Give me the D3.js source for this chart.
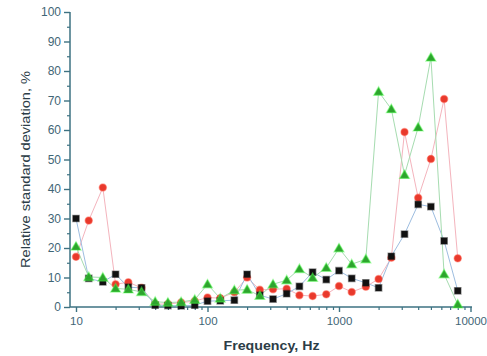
<!DOCTYPE html>
<html>
<head>
<meta charset="utf-8">
<script src="https://cdn.jsdelivr.net/npm/d3@7"></script>
<style>
  html, body { margin: 0; padding: 0; background: #fff; }
  svg { display: block; }
  text { font-family: "Liberation Sans", Arial, Helvetica, sans-serif; }
</style>
</head>
<body>
<svg id="chart" width="487" height="356"></svg>
<script>
// One-third-octave band centre frequencies, Hz
const frequencies = [10, 12.5, 16, 20, 25, 31.5, 40, 50, 63, 80, 100, 125, 160, 200, 250,
  315, 400, 500, 630, 800, 1000, 1250, 1600, 2000, 2500, 3150, 4000, 5000, 6300, 8000];

// Relative standard deviation (%) per band, three measurement series
const seriesSquares = [30, 9.7, 8.5, 11.1, 6.7, 6.5, 0.6, 0.5, 0.4, 0.6, 2, 2.1, 2.3, 11.1, 4,
  2.7, 4.5, 7, 11.8, 9.3, 12.3, 9.7, 8.2, 6.5, 17.2, 24.7, 34.8, 34, 22.4, 5.5];
const seriesCircles = [17, 29.3, 40.5, 7.7, 8.4, 6.5, 1, 1, 1.5, 2, 3.2, 3, 5, 10, 5.8,
  6, 6.2, 4, 3.7, 4.3, 7.1, 5.1, 6.9, 9.5, 16.7, 59.3, 37, 50.2, 70.5, 16.5];
const seriesTriangles = [20.5, 10.2, 10, 6.3, 6, 5.1, 1.8, 1.5, 1.7, 2.5, 7.7, 2.9, 5.7, 5.9, 3.8,
  7.7, 9.1, 12.9, 9.9, 13.3, 19.9, 14.5, 16.2, 73, 67.1, 44.8, 60.9, 84.6, 11.1, 0.9];

// Axis ticks
const xMajorTicks = [10, 100, 1000, 10000];
const xMinorTicks = [20, 30, 40, 50, 60, 70, 80, 90, 200, 300, 400, 500, 600, 700, 800, 900,
  2000, 3000, 4000, 5000, 6000, 7000, 8000, 9000];
const yMajorTicks = [0, 10, 20, 30, 40, 50, 60, 70, 80, 90, 100];
const yMinorTicks = [5, 15, 25, 35, 45, 55, 65, 75, 85, 95];

const axisColor = "#3d7282";
const labelColor = "#3f6676";
const titleColor = "#2c3d47";

const svg = d3.select("#chart");

const x = d3.scaleLog().domain([10, 10000]).range([76, 470.5]);
const y = d3.scaleLinear().domain([0, 100]).range([307, 12]);

const axisLeftX = 70;
const axisBottomY = 307;

// X axis
const gx = svg.append("g").attr("transform", `translate(0,${axisBottomY})`);
gx.call(d3.axisBottom(x).tickValues(xMinorTicks).tickSize(3).tickFormat(""))
  .call(g => g.select(".domain").remove())
  .call(g => g.selectAll("line").attr("stroke", axisColor).attr("stroke-width", 1.2));
gx.append("g").call(d3.axisBottom(x).tickValues(xMajorTicks).tickSize(5).tickPadding(5)
    .tickFormat(d3.format("d")))
  .call(g => g.select(".domain").remove())
  .call(g => g.selectAll("line").attr("stroke", axisColor).attr("stroke-width", 1.4))
  .call(g => g.selectAll("text").attr("fill", labelColor).style("font-size", "11.5px"));
gx.append("line").attr("x1", axisLeftX).attr("x2", 472).attr("y1", 0).attr("y2", 0)
  .attr("stroke", axisColor).attr("stroke-width", 1.5);

// Y axis
const gy = svg.append("g").attr("transform", `translate(${axisLeftX},0)`);
gy.call(d3.axisLeft(y).tickValues(yMinorTicks).tickSize(3).tickFormat(""))
  .call(g => g.select(".domain").remove())
  .call(g => g.selectAll("line").attr("stroke", axisColor).attr("stroke-width", 1.2));
gy.append("g").call(d3.axisLeft(y).tickValues(yMajorTicks).tickSize(6).tickPadding(3)
    .tickFormat(d3.format("d")))
  .call(g => g.select(".domain").remove())
  .call(g => g.selectAll("line").attr("stroke", axisColor).attr("stroke-width", 1.4))
  .call(g => g.selectAll("text").attr("fill", labelColor).style("font-size", "12px"));
gy.append("line").attr("x1", 0).attr("x2", 0).attr("y1", y(100)).attr("y2", axisBottomY)
  .attr("stroke", axisColor).attr("stroke-width", 1.5);

// Axis titles
svg.append("text")
  .attr("x", 271.5).attr("y", 350)
  .attr("text-anchor", "middle")
  .attr("fill", titleColor)
  .attr("font-weight", "bold")
  .attr("textLength", 96).attr("lengthAdjust", "spacingAndGlyphs")
  .style("font-size", "13px")
  .text("Frequency, Hz");

svg.append("text")
  .attr("transform", "translate(30,169.5) rotate(-90)")
  .attr("text-anchor", "middle")
  .attr("fill", titleColor)
  .attr("textLength", 197).attr("lengthAdjust", "spacingAndGlyphs")
  .style("font-size", "13px")
  .text("Relative standard deviation, %");

// Series
const series = [
  { values: seriesCircles, line: "#f4b4bd", fill: "#e8392c", shape: "circle" },
  { values: seriesSquares, line: "#9dbde0", fill: "#111111", shape: "square" },
  { values: seriesTriangles, line: "#a6dcb0", fill: "#2ea32e", shape: "triangle" }
];

const line = d3.line().x(d => x(d[0])).y(d => y(d[1]));

// connecting lines first, markers on top
series.forEach(s => {
  svg.append("path")
    .datum(frequencies.map((f, i) => [f, s.values[i]]))
    .attr("d", line)
    .attr("fill", "none")
    .attr("stroke", s.line)
    .attr("stroke-width", 1);
});

const symbolType = { circle: d3.symbolCircle, square: d3.symbolSquare, triangle: d3.symbolTriangle };
const symbolSize = { circle: 40, square: 40, triangle: 40 };

series.forEach(s => {
  const sym = d3.symbol().type(symbolType[s.shape]).size(symbolSize[s.shape]);
  svg.append("g").selectAll("path")
    .data(frequencies.map((f, i) => [f, s.values[i]]))
    .join("path")
    .attr("d", sym)
    .attr("transform", d => `translate(${x(d[0])},${y(d[1]) + (s.shape === "triangle" ? 0.8 : 0)})`)
    .attr("fill", s.fill)
    .attr("stroke", d3.color(s.fill).brighter(1.2).copy({ opacity: 0.45 }))
    .attr("stroke-width", 1.4);
});
</script>
</body>
</html>
